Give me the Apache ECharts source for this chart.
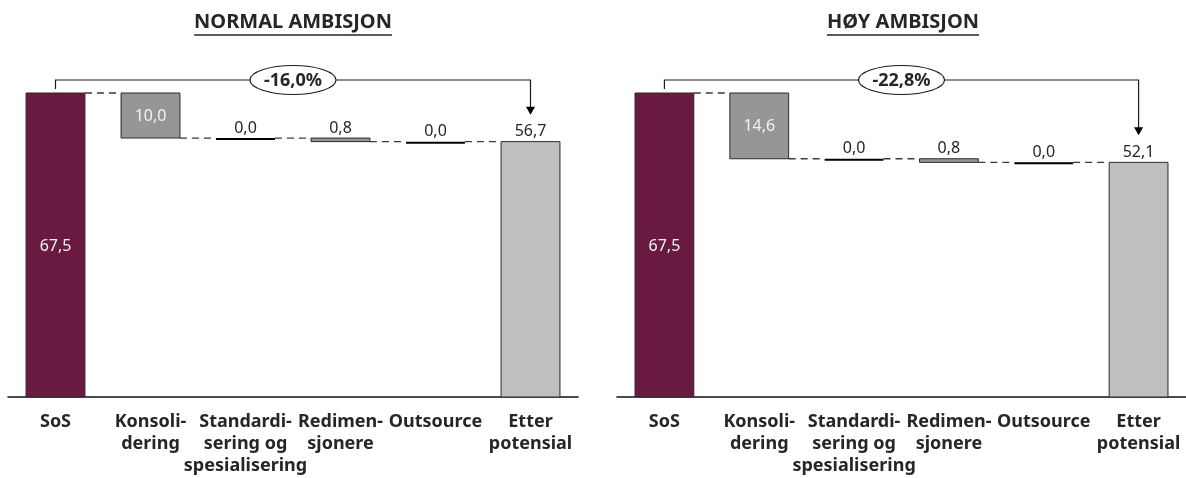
<!DOCTYPE html>
<html>
<head>
<meta charset="utf-8">
<script src="https://cdn.jsdelivr.net/npm/echarts@6/dist/echarts.min.js"></script>
<style>
  html, body { margin: 0; padding: 0; background: #ffffff; }
  #chart { width: 1186px; height: 478px; }
</style>
</head>
<body>
<div id="chart"></div>
<script>
// Categories along each waterfall
const categories = ['SoS', 'Konsoli-\ndering', 'Standardi-\nsering og\nspesialisering', 'Redimen-\nsjonere', 'Outsource', 'Etter\npotensial'];
const panelTitles = ['NORMAL AMBISJON', 'HØY AMBISJON'];

// Starting level, reductions per lever, and resulting level
const startValues = [67.5, 67.5];
const normalSteps = [10.0, 0.0, 0.8, 0.0];
const highSteps = [14.6, 0.0, 0.8, 0.0];
const endValues = [56.7, 52.1];

const FONT = '"Noto Sans", "Open Sans", sans-serif';
const TEXT_DARK = '#262626';
const COLOR_START = '#6a1a41';
const COLOR_STEP = '#969696';
const COLOR_END = '#bfbfbf';
const BAR_RATIO = 0.62;

const fmt = v => v.toFixed(1).replace('.', ',');

// kind: 0 = start total, 1 = reduction step, 2 = end total
function buildBars(start, steps, end) {
  const rows = [[0, 0, start, 0, start]];
  let level = start;
  steps.forEach((s, k) => {
    rows.push([k + 1, level - s, level, 1, s]);
    level -= s;
  });
  rows.push([steps.length + 1, 0, end, 2, end]);
  return rows;
}

// dashed connectors between neighbouring bars at the running level
function buildConnectors(start, steps) {
  const rows = [[0, start]];
  let level = start;
  steps.forEach((s, k) => {
    level -= s;
    rows.push([k + 1, level]);
  });
  return rows;
}

function renderBar(params, api) {
  const i = api.value(0), low = api.value(1), high = api.value(2), kind = api.value(3), v = api.value(4);
  const top = api.coord([i, high]);
  const bottom = api.coord([i, low]);
  const w = api.size([1, 0])[0] * BAR_RATIO;
  const x = top[0] - w / 2;
  const h = bottom[1] - top[1];
  const children = [];
  const fill = kind === 0 ? COLOR_START : (kind === 2 ? COLOR_END : COLOR_STEP);
  if (kind === 1 && v === 0) {
    children.push({ type: 'line', shape: { x1: x, y1: top[1] + 1, x2: x + w, y2: top[1] + 1 },
      style: { stroke: '#000000', lineWidth: 2 } });
  } else {
    children.push({ type: 'rect', shape: { x: x, y: top[1], width: w, height: h },
      style: { fill: fill, stroke: '#2b2b2b', lineWidth: 1 } });
  }
  const inside = kind === 0 || (kind === 1 && h > 22);
  children.push({
    type: 'text',
    style: {
      text: fmt(v),
      x: top[0],
      y: inside ? top[1] + h / 2 + 1 : top[1] - 2,
      align: 'center',
      verticalAlign: inside ? 'middle' : 'bottom',
      fill: inside ? '#f2f2f2' : TEXT_DARK,
      font: '16px ' + FONT
    },
    z2: 10
  });
  return { type: 'group', children: children };
}

function renderConnector(params, api) {
  const i = api.value(0), level = api.value(1);
  const a = api.coord([i, level]);
  const b = api.coord([i + 1, level]);
  const w = api.size([1, 0])[0] * BAR_RATIO;
  return {
    type: 'line',
    shape: { x1: a[0] + w / 2, y1: a[1], x2: b[0] - w / 2, y2: b[1] },
    style: { stroke: '#3a3a3a', lineWidth: 1.3, lineDash: [7, 5] }
  };
}

// bracket from the start bar to the end bar with the relative change
function renderBracket(params, api) {
  const si = api.value(0), ei = api.value(1), sv = api.value(2), ev = api.value(3);
  const s = api.coord([si, sv]);
  const e = api.coord([ei, ev]);
  const yLine = s[1] - 13;
  const tipY = e[1] - 27;
  const midX = (s[0] + e[0]) / 2;
  const pct = ((ev - sv) / sv * 100).toFixed(1).replace('.', ',') + '%';
  return {
    type: 'group',
    children: [
      { type: 'polyline', shape: { points: [[s[0], s[1] - 4], [s[0], yLine], [e[0], yLine], [e[0], tipY - 7]] },
        style: { stroke: '#1a1a1a', lineWidth: 1.2, fill: null } },
      { type: 'polygon', shape: { points: [[e[0] - 4.5, tipY - 8], [e[0] + 4.5, tipY - 8], [e[0], tipY]] },
        style: { fill: '#000000' } },
      { type: 'ellipse', shape: { cx: midX, cy: yLine, rx: 43, ry: 14.5 },
        style: { fill: '#ffffff', stroke: '#1a1a1a', lineWidth: 1.2 } },
      { type: 'text', style: { text: pct, x: midX, y: yLine + 1, align: 'center', verticalAlign: 'middle',
        fill: TEXT_DARK, font: 'bold 18px ' + FONT } }
    ]
  };
}

const panels = [
  { left: 8, width: 570, steps: normalSteps },
  { left: 617, width: 572, steps: highSteps }
];

const grids = [], xAxes = [], yAxes = [], series = [], graphics = [];
const measure = document.createElement('canvas').getContext('2d');
const titleFont = 'bold 20px ' + FONT;
measure.font = titleFont;

panels.forEach((p, k) => {
  grids.push({ left: p.left, width: p.width, top: 93, height: 304 });
  xAxes.push({
    type: 'category', gridIndex: k, data: categories,
    axisLine: { lineStyle: { color: '#111111', width: 1.6 } },
    axisTick: { show: false },
    axisLabel: { interval: 0, margin: 14, fontFamily: FONT, fontWeight: 'bold', fontSize: 18,
      lineHeight: 22, color: TEXT_DARK, align: 'center' }
  });
  yAxes.push({ type: 'value', gridIndex: k, min: 0, max: startValues[k], show: false });

  series.push({ type: 'custom', xAxisIndex: k, yAxisIndex: k, renderItem: renderConnector,
    data: buildConnectors(startValues[k], p.steps), z: 1, silent: true });
  series.push({ type: 'custom', xAxisIndex: k, yAxisIndex: k, renderItem: renderBar,
    data: buildBars(startValues[k], p.steps, endValues[k]), z: 2, silent: true });
  series.push({ type: 'custom', xAxisIndex: k, yAxisIndex: k, renderItem: renderBracket,
    data: [[0, categories.length - 1, startValues[k], endValues[k]]], z: 3, silent: true, clip: false });

  const cx = p.left + p.width / 2;
  const tw = measure.measureText(panelTitles[k]).width;
  graphics.push({ type: 'text', x: cx, y: 22,
    style: { text: panelTitles[k], align: 'center', verticalAlign: 'middle', font: titleFont, fill: TEXT_DARK } });
  graphics.push({ type: 'line', shape: { x1: cx - tw / 2, y1: 35, x2: cx + tw / 2, y2: 35 },
    style: { stroke: TEXT_DARK, lineWidth: 1.5 } });
});

const chart = echarts.init(document.getElementById('chart'), null, { renderer: 'canvas' });
chart.setOption({
  animation: false,
  backgroundColor: '#ffffff',
  grid: grids,
  xAxis: xAxes,
  yAxis: yAxes,
  series: series,
  graphic: graphics
});
</script>
</body>
</html>
